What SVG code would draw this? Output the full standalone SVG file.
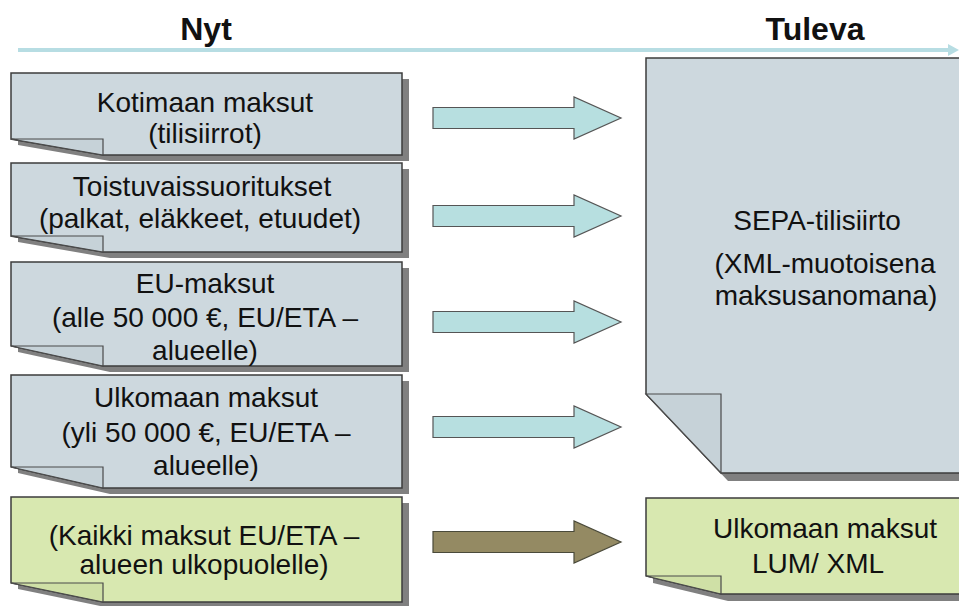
<svg xmlns="http://www.w3.org/2000/svg" xmlns:xlink="http://www.w3.org/1999/xlink" width="959" height="606" viewBox="0 0 959 606">
  <style>
    text { font-family: "Liberation Sans", Arial, sans-serif; fill: #111; text-anchor: middle; }
    .t { font-size: 28px; }
    .h { font-size: 32px; font-weight: bold; }
    .shadow { fill: #808080; }
    .blue { fill: #cdd8de; stroke: #3c3c3c; stroke-width: 1.5; }
    .green { fill: #d8e8b0; stroke: #3c3c3c; stroke-width: 1.5; }
    .flapb { fill: #c6d2d8; stroke: #4a4a4a; stroke-width: 1.2; }
    .flapg { fill: #cfe0a6; stroke: #4a4a4a; stroke-width: 1.2; }
    .arr { fill: #b7dfe0; stroke: #555; stroke-width: 1.2; }
    .arrb { fill: #948a63; stroke: #4a4a3a; stroke-width: 1.2; }
  </style>
  <defs>
    <path id="arrow" d="M433,-10.5 H574 V-21 L621,0 L574,21 V10.5 H433 Z"/>
  </defs>

  <!-- header -->
  <g id="timeline">
    <line x1="18" y1="50" x2="950" y2="50" stroke="#b7dde3" stroke-width="4"/>
    <polygon points="948,44 959,50 948,56" fill="#b7dde3"/>
    <text class="h" x="206" y="40">Nyt</text>
    <text class="h" x="815" y="40">Tuleva</text>
  </g>

  <!-- left nodes -->
  <g id="kotimaan">
    <path class="shadow" d="M18,79 H409 V161 H110 L18,145 Z"/>
    <path class="blue" d="M11,73 H402 V155 H103 L11,139 Z"/>
    <path class="flapb" d="M11,139 H103 V155 Z"/>
    <text class="t" x="205" y="112">Kotimaan maksut</text>
    <text class="t" x="205" y="143">(tilisiirrot)</text>
  </g>

  <g id="toistuvais">
    <path class="shadow" d="M18,169 H409 V258 H110 L18,242 Z"/>
    <path class="blue" d="M11,163 H402 V252 H103 L11,236 Z"/>
    <path class="flapb" d="M11,236 H103 V252 Z"/>
    <text class="t" x="202" y="196">Toistuvaissuoritukset</text>
    <text class="t" x="200" y="228">(palkat, eläkkeet, etuudet)</text>
  </g>

  <g id="eu-maksut">
    <path class="shadow" d="M18,268 H409 V372 H110 L18,352 Z"/>
    <path class="blue" d="M11,262 H402 V366 H103 L11,346 Z"/>
    <path class="flapb" d="M11,346 H103 V366 Z"/>
    <text class="t" x="205" y="293">EU-maksut</text>
    <text class="t" x="205" y="327">(alle 50 000 €, EU/ETA –</text>
    <text class="t" x="205" y="360">alueelle)</text>
  </g>

  <g id="ulkomaan">
    <path class="shadow" d="M18,381 H409 V494 H110 L18,473 Z"/>
    <path class="blue" d="M11,375 H402 V488 H103 L11,467 Z"/>
    <path class="flapb" d="M11,467 H103 V488 Z"/>
    <text class="t" x="206" y="407">Ulkomaan maksut</text>
    <text class="t" x="206" y="442">(yli 50 000 €, EU/ETA –</text>
    <text class="t" x="206" y="475">alueelle)</text>
  </g>

  <g id="kaikki">
    <path class="shadow" d="M18,503 H409 V608 H110 L18,589 Z"/>
    <path class="green" d="M11,497 H402 V602 H103 L11,583 Z"/>
    <path class="flapg" d="M11,583 H103 V602 Z"/>
    <text class="t" x="204" y="545">(Kaikki maksut EU/ETA –</text>
    <text class="t" x="204" y="574">alueen ulkopuolelle)</text>
  </g>

  <!-- right nodes -->
  <g id="sepa">
    <path class="shadow" d="M653,65 H985 V481 H728 L653,401 Z"/>
    <path class="blue" d="M646,58 H978 V473 H721 L646,394 Z"/>
    <path class="flapb" d="M646,394 H721 V473 Z"/>
    <text class="t" x="817" y="230">SEPA-tilisiirto</text>
    <text class="t" x="825" y="273">(XML-muotoisena</text>
    <text class="t" x="826" y="305">maksusanomana)</text>
  </g>

  <g id="lum-xml">
    <path class="shadow" d="M653,504 H985 V601 H728 L653,583 Z"/>
    <path class="green" d="M646,498 H978 V594 H721 L646,576 Z"/>
    <path class="flapg" d="M646,576 H721 V594 Z"/>
    <text class="t" x="825" y="538">Ulkomaan maksut</text>
    <text class="t" x="818" y="573">LUM/ XML</text>
  </g>

  <!-- connectors -->
  <g id="connectors">
    <use xlink:href="#arrow" href="#arrow" class="arr" transform="translate(0,118)"/>
    <use xlink:href="#arrow" href="#arrow" class="arr" transform="translate(0,216)"/>
    <use xlink:href="#arrow" href="#arrow" class="arr" transform="translate(0,322)"/>
    <use xlink:href="#arrow" href="#arrow" class="arr" transform="translate(0,427)"/>
    <use xlink:href="#arrow" href="#arrow" class="arrb" transform="translate(0,542)"/>
  </g>
</svg>
